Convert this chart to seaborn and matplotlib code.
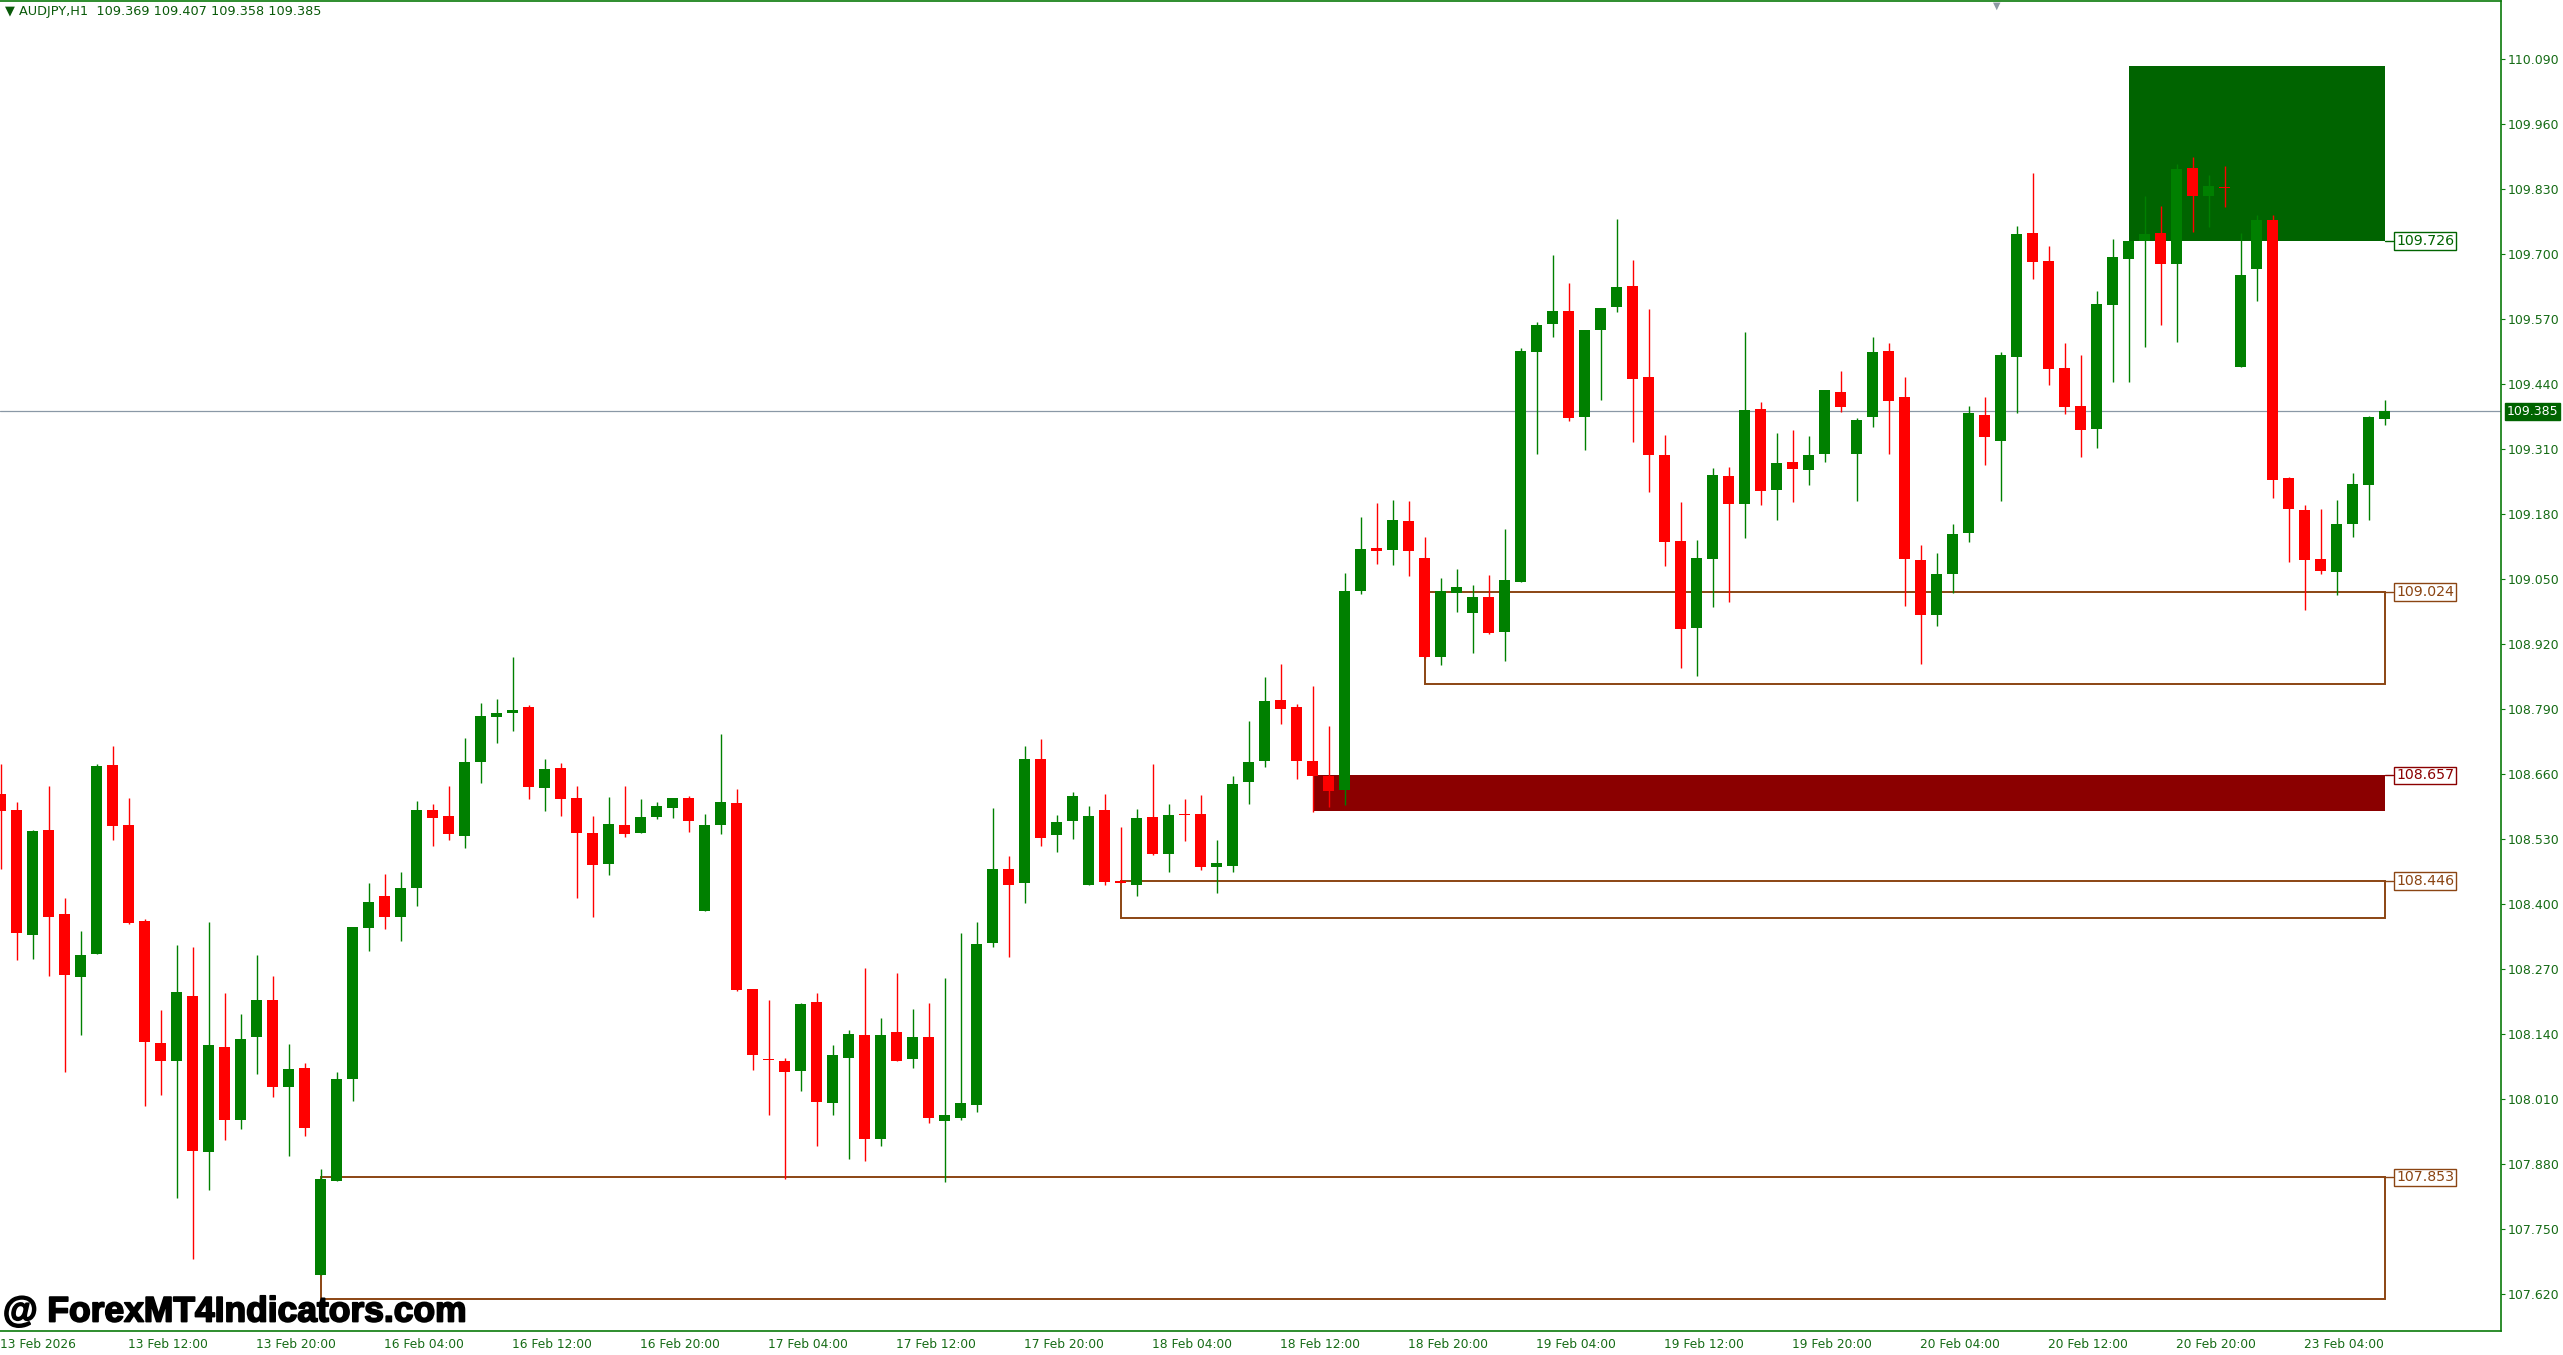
import numpy as np
import pandas as pd
import matplotlib
matplotlib.use("Agg")
import matplotlib.pyplot as plt
import matplotlib.patheffects as pe
from matplotlib.patches import Rectangle
import seaborn as sns

# -----------------------------
# Data: AUDJPY H1 candles
# -----------------------------
opens = [108.620, 108.588, 108.338, 108.548, 108.380, 108.254, 108.299, 108.678, 108.558, 108.366,
         108.122, 108.085, 108.216, 107.903, 108.114, 107.967, 108.134, 108.208, 108.033, 108.072,
         107.658, 107.845, 108.049, 108.351, 108.416, 108.374, 108.432, 108.588, 108.576, 108.535,
         108.684, 108.774, 108.782, 108.793, 108.632, 108.672, 108.612, 108.542, 108.480, 108.558,
         108.542, 108.574, 108.591, 108.612, 108.386, 108.558, 108.601, 108.229, 108.089, 108.086,
         108.066, 108.203, 108.002, 108.092, 108.137, 107.930, 108.144, 108.089, 108.134, 107.966,
         107.972, 107.998, 108.321, 108.470, 108.441, 108.689, 108.538, 108.566, 108.438, 108.588,
         108.445, 108.438, 108.574, 108.500, 108.579, 108.580, 108.473, 108.475, 108.643, 108.685,
         108.808, 108.794, 108.686, 108.656, 108.627, 109.026, 109.111, 109.108, 109.166, 109.092,
         108.893, 109.021, 108.981, 109.014, 108.944, 109.043, 109.503, 109.559, 109.586, 109.373,
         109.547, 109.594, 109.636, 109.454, 109.298, 109.126, 108.951, 109.089, 109.256, 109.199,
         109.390, 109.227, 109.284, 109.267, 109.299, 109.424, 109.299, 109.373, 109.506, 109.414,
         109.088, 108.977, 109.059, 109.141, 109.378, 109.325, 109.494, 109.742, 109.686, 109.472,
         109.396, 109.349, 109.597, 109.689, 109.726, 109.742, 109.679, 109.872, 109.815, 109.834,
         109.474, 109.669, 109.768, 109.252, 109.188, 109.090, 109.063, 109.160, 109.238, 109.369]
highs = [108.680, 108.603, 108.548, 108.636, 108.412, 108.346, 108.679, 108.716, 108.611, 108.369,
         108.188, 108.318, 108.314, 108.364, 108.222, 108.180, 108.298, 108.256, 108.120, 108.081,
         107.869, 108.064, 108.354, 108.442, 108.460, 108.464, 108.606, 108.600, 108.636, 108.732,
         108.802, 108.810, 108.894, 108.798, 108.689, 108.682, 108.636, 108.576, 108.614, 108.636,
         108.610, 108.604, 108.612, 108.616, 108.580, 108.740, 108.630, 108.229, 108.208, 108.092,
         108.202, 108.222, 108.118, 108.147, 108.271, 108.172, 108.262, 108.190, 108.202, 108.252,
         108.342, 108.364, 108.591, 108.496, 108.715, 108.730, 108.578, 108.624, 108.596, 108.620,
         108.554, 108.590, 108.679, 108.600, 108.610, 108.617, 108.528, 108.656, 108.766, 108.854,
         108.880, 108.800, 108.836, 108.756, 109.061, 109.173, 109.201, 109.207, 109.206, 109.134,
         109.051, 109.070, 109.037, 109.058, 109.150, 109.512, 109.564, 109.698, 109.642, 109.548,
         109.592, 109.770, 109.688, 109.590, 109.338, 109.204, 109.128, 109.272, 109.274, 109.544,
         109.404, 109.342, 109.348, 109.336, 109.428, 109.466, 109.372, 109.534, 109.522, 109.454,
         109.118, 109.102, 109.160, 109.396, 109.414, 109.504, 109.756, 109.862, 109.716, 109.522,
         109.498, 109.626, 109.730, 109.726, 109.816, 109.796, 109.879, 109.894, 109.858, 109.876,
         109.742, 109.778, 109.778, 109.254, 109.197, 109.190, 109.208, 109.262, 109.375, 109.407]
lows = [108.470, 108.288, 108.290, 108.256, 108.063, 108.137, 108.299, 108.527, 108.359, 107.995,
        108.018, 107.811, 107.689, 107.827, 107.927, 107.949, 108.060, 108.013, 107.896, 107.935,
        107.658, 107.845, 108.005, 108.305, 108.350, 108.325, 108.396, 108.516, 108.528, 108.512,
        108.642, 108.721, 108.746, 108.610, 108.586, 108.576, 108.411, 108.374, 108.457, 108.534,
        108.542, 108.570, 108.571, 108.544, 108.386, 108.539, 108.226, 108.068, 107.977, 107.850,
        108.026, 107.916, 107.978, 107.890, 107.886, 107.915, 108.085, 108.072, 107.961, 107.844,
        107.968, 107.984, 108.314, 108.294, 108.402, 108.516, 108.504, 108.529, 108.438, 108.438,
        108.442, 108.416, 108.497, 108.463, 108.525, 108.468, 108.421, 108.463, 108.599, 108.673,
        108.760, 108.649, 108.583, 108.593, 108.597, 109.020, 109.080, 109.078, 109.055, 108.892,
        108.878, 108.983, 108.902, 108.940, 108.885, 109.043, 109.299, 109.533, 109.365, 109.307,
        109.407, 109.583, 109.324, 109.223, 109.075, 108.871, 108.855, 108.993, 109.003, 109.131,
        109.197, 109.167, 109.203, 109.237, 109.284, 109.384, 109.205, 109.354, 109.300, 108.995,
        108.879, 108.955, 109.021, 109.123, 109.277, 109.205, 109.381, 109.649, 109.437, 109.379,
        109.293, 109.311, 109.443, 109.444, 109.513, 109.558, 109.523, 109.743, 109.754, 109.794,
        109.474, 109.606, 109.211, 109.083, 108.987, 109.060, 109.017, 109.133, 109.168, 109.358]
closes = [108.585, 108.342, 108.546, 108.373, 108.257, 108.298, 108.676, 108.556, 108.361, 108.123,
          108.085, 108.224, 107.905, 108.118, 107.967, 108.130, 108.208, 108.033, 108.070, 107.951,
          107.850, 108.050, 108.354, 108.404, 108.373, 108.432, 108.588, 108.572, 108.539, 108.684,
          108.776, 108.782, 108.788, 108.633, 108.669, 108.610, 108.542, 108.477, 108.560, 108.540,
          108.574, 108.596, 108.612, 108.565, 108.558, 108.604, 108.228, 108.098, 108.087, 108.064,
          108.199, 108.004, 108.098, 108.140, 107.929, 108.137, 108.086, 108.134, 107.972, 107.978,
          108.001, 108.320, 108.470, 108.438, 108.689, 108.532, 108.564, 108.616, 108.576, 108.444,
          108.442, 108.571, 108.499, 108.578, 108.577, 108.474, 108.482, 108.640, 108.684, 108.806,
          108.790, 108.685, 108.655, 108.625, 109.025, 109.109, 109.106, 109.167, 109.105, 108.893,
          109.025, 109.034, 109.014, 108.941, 109.048, 109.506, 109.558, 109.586, 109.371, 109.548,
          109.592, 109.634, 109.449, 109.297, 109.123, 108.949, 109.092, 109.258, 109.199, 109.388,
          109.225, 109.282, 109.269, 109.298, 109.428, 109.393, 109.368, 109.504, 109.406, 109.089,
          108.977, 109.060, 109.140, 109.382, 109.333, 109.498, 109.740, 109.683, 109.469, 109.393,
          109.347, 109.600, 109.694, 109.726, 109.740, 109.679, 109.870, 109.816, 109.836, 109.831,
          109.658, 109.768, 109.247, 109.189, 109.087, 109.065, 109.160, 109.240, 109.374, 109.385]

time_labels = ["13 Feb 2026", "13 Feb 12:00", "13 Feb 20:00", "16 Feb 04:00", "16 Feb 12:00",
               "16 Feb 20:00", "17 Feb 04:00", "17 Feb 12:00", "17 Feb 20:00", "18 Feb 04:00",
               "18 Feb 12:00", "18 Feb 20:00", "19 Feb 04:00", "19 Feb 12:00", "19 Feb 20:00",
               "20 Feb 04:00", "20 Feb 12:00", "20 Feb 20:00", "23 Feb 04:00"]
price_ticks = [107.620, 107.750, 107.880, 108.010, 108.140, 108.270, 108.400, 108.530, 108.660,
               108.790, 108.920, 109.050, 109.180, 109.310, 109.440, 109.570, 109.700, 109.830,
               109.960, 110.090]

# supply / demand zones: start candle, top, bottom, kind
zone_start = [133, 89, 82, 70, 20]
zone_top = [110.075, 109.024, 108.657, 108.446, 107.853]
zone_bottom = [109.726, 108.840, 108.586, 108.371, 107.610]
zone_label = [109.726, 109.024, 108.657, 108.446, 107.853]
zone_kind = ["supply", "open", "demand", "open", "open"]

last_price = 109.385
symbol = "AUDJPY,H1"

df = pd.DataFrame({"open": opens, "high": highs, "low": lows, "close": closes})
df["t"] = np.arange(len(df))
df["up"] = df["close"] >= df["open"]
last_idx = df["t"].iloc[-1]

# -----------------------------
# Plot
# -----------------------------
sns.set_style("white")
plt.rcParams["font.family"] = ["DejaVu Sans"]

W, H = 2563, 1355
fig = plt.figure(figsize=(W / 100, H / 100), dpi=100)
fig.patch.set_facecolor("white")
ax = fig.add_axes([0, 24 / H, 2501 / W, 1330 / H])

AX_GREEN = "#0B7A0B"
TXT_GREEN = "#156B15"
BULL, BEAR = "#008000", "#FF0000"
BROWN = "#8B4513"
zone_colors = {"supply": "#006400", "demand": "#8B0000", "open": BROWN}

# zones
for s, top, bot, lab, kind in zip(zone_start, zone_top, zone_bottom, zone_label, zone_kind):
    col = zone_colors[kind]
    if kind == "open":
        ax.add_patch(Rectangle((s, bot), last_idx - s, top - bot, fill=False,
                               edgecolor=col, lw=1.4, zorder=1))
        tcol = BROWN
    else:
        ax.add_patch(Rectangle((s, bot), last_idx - s, top - bot, facecolor=col,
                               edgecolor="none", zorder=1))
        tcol = col
    ax.plot([last_idx, last_idx + 0.55], [lab, lab], color=tcol, lw=1.0, zorder=5)
    ax.text(last_idx + 0.72, lab, f"{lab:.3f}", color=tcol, fontsize=10.2,
            ha="left", va="center", zorder=6,
            bbox=dict(boxstyle="square,pad=0.12", facecolor="white", edgecolor=tcol, lw=1.0))

# bid line
ax.axhline(last_price, color="#8A98A6", lw=0.9, zorder=2)

# candles
colors = np.where(df["up"], BULL, BEAR)
ax.vlines(df["t"], df["low"], df["high"], colors=colors, lw=1.0, zorder=3)
body_low = df[["open", "close"]].min(axis=1)
body_h = (df["close"] - df["open"]).abs().clip(lower=0.003)
ax.bar(df["t"], body_h, bottom=body_low, width=0.6875, color=colors, linewidth=0, zorder=4)

# axes limits from pixel layout (16 px per candle, 500 px per yen)
ax.set_xlim(-0.5 / 16, 2500.5 / 16)
ax.set_ylim(110.090 - (1331 - 58.9) * 0.002, 110.090 + (58.9 - 1) * 0.002)

for side in ["top", "right", "bottom"]:
    ax.spines[side].set_color(AX_GREEN)
    ax.spines[side].set_linewidth(1.2)
ax.spines["left"].set_visible(False)

ax.yaxis.tick_right()
ax.set_yticks(price_ticks)
ax.set_yticklabels([f"{p:.3f}" for p in price_ticks])
ax.tick_params(axis="y", which="both", direction="out", length=3, width=0.8,
               colors=AX_GREEN, labelcolor=TXT_GREEN, labelsize=9, pad=2)

ax.set_xticks(np.arange(0, len(time_labels) * 8, 8))
ax.set_xticklabels(time_labels)
ax.tick_params(axis="x", direction="out", length=3, width=0.8,
               colors=AX_GREEN, labelcolor=TXT_GREEN, labelsize=8.8, pad=2)
plt.setp(ax.get_xticklabels(), ha="left")
ax.grid(False)

# current price tag on the axis
ax.annotate(f"{last_price:.3f}", xy=(1.0, last_price), xycoords=("axes fraction", "data"),
            xytext=(4, 0), textcoords="offset points", color="white", fontsize=9,
            ha="left", va="center", annotation_clip=False,
            bbox=dict(boxstyle="square,pad=0.15", facecolor="#006400", edgecolor="#006400"))

# header and watermark
o, h, l, c = opens[-1], highs[-1], lows[-1], closes[-1]
fig.text(5 / W, 1 - 12 / H, f"\u25BC {symbol}  {o:.3f} {h:.3f} {l:.3f} {c:.3f}",
         fontsize=9.3, color="#0A5A0A", ha="left", va="center")
fig.text(1997 / W, 1 - 6 / H, "\u25BC", fontsize=7, color="#8E99A4", ha="center", va="center")
fig.text(3 / W, (H - 1312) / H, "@ ForexMT4Indicators.com", fontsize=25.5,
         fontweight="bold", family="Liberation Sans", color="black", ha="left", va="center",
         path_effects=[pe.withStroke(linewidth=1.3, foreground="black")])

fig.savefig("out.png", dpi=100, facecolor="white")
